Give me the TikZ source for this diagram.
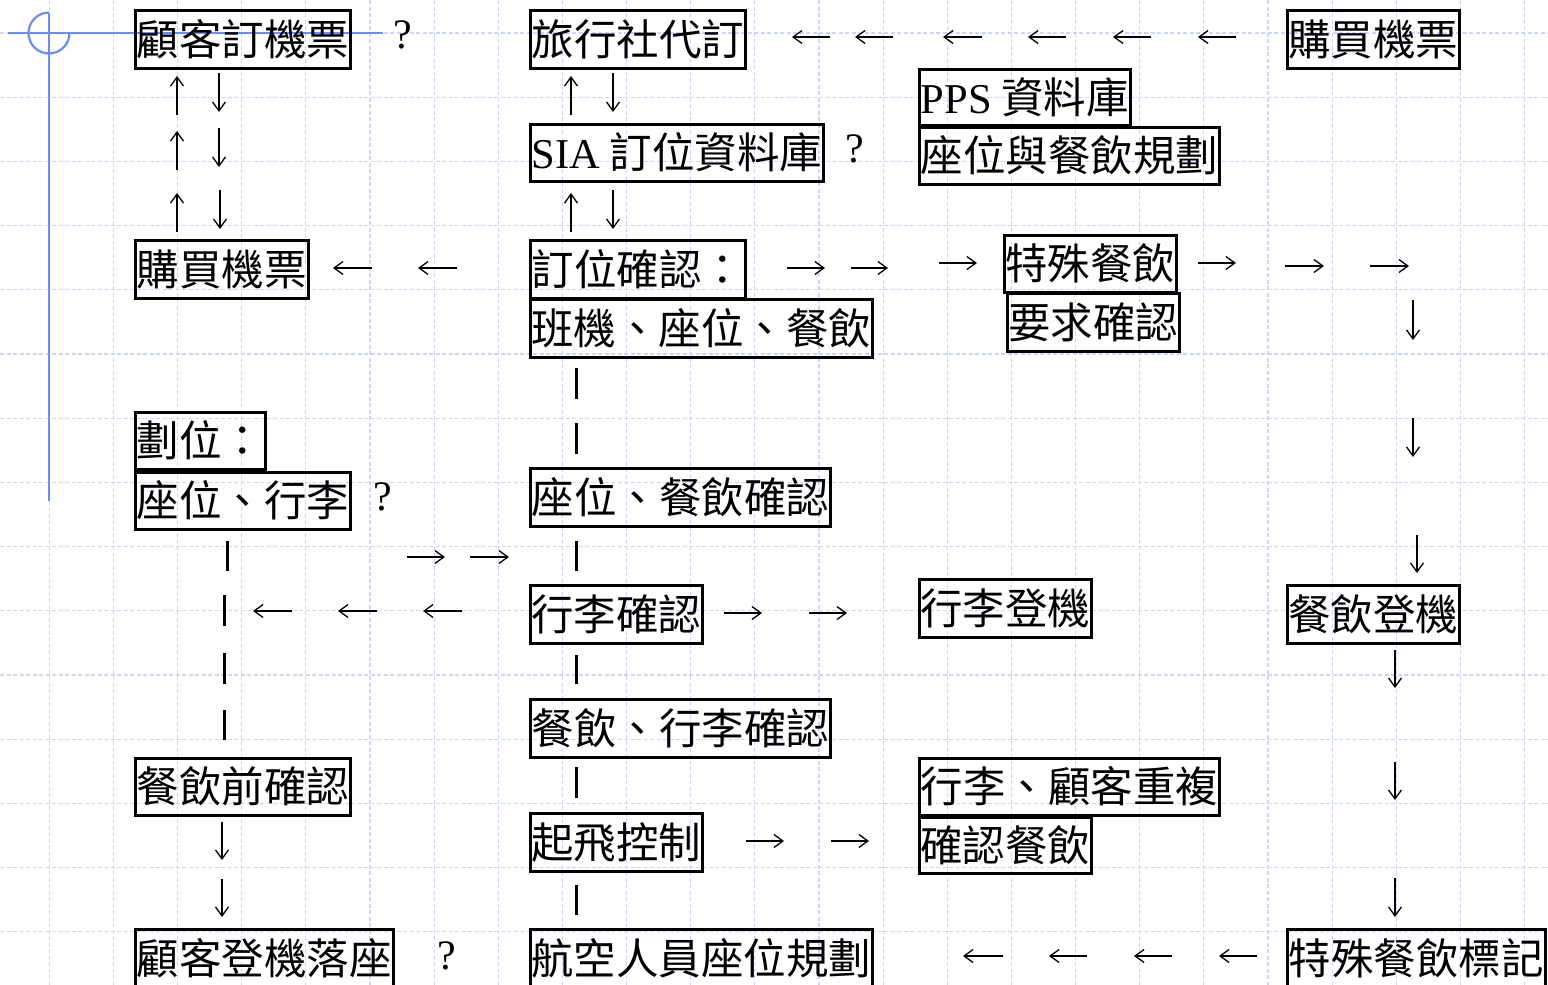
\documentclass[tikz,border=0pt]{standalone}
\usepackage{fontspec}
\setmainfont{Liberation Serif}
\newfontfamily\cjk{Noto Sans CJK TC}
\usetikzlibrary{arrows.meta}
\definecolor{gridblue}{RGB}{205,214,250}
\definecolor{decoblue}{RGB}{110,140,245}
\begin{document}
\begin{tikzpicture}[x=1pt,y=-1pt,
  gridln/.style={draw=gridblue,line width=1.1pt,dash pattern=on 4pt off 2.5pt},
  deco/.style={draw=decoblue,line width=2.2pt},
  box/.style={draw=black,line width=2.7pt,anchor=north west,inner sep=0pt,
    font=\cjk\fontsize{42.5pt}{50pt}\selectfont,text height=37pt,text depth=5pt},
  qm/.style={font=\rmfamily\fontsize{42pt}{50pt}\selectfont,inner sep=0pt},
  arr/.style={line width=1.3pt,-{Straight Barb[length=9pt,width=13pt]}},
  bar/.style={line width=3pt}]
\useasboundingbox (0,0) rectangle (1548,985);
\fill[white] (0,0) rectangle (1548,985);
% background grid
\foreach \k in {0,...,23} \draw[gridln] ({49.3+64.14*\k},0) -- ({49.3+64.14*\k},985);
\foreach \k in {0,...,14} \draw[gridln] (0,{33+64.2*\k}) -- (1548,{33+64.2*\k});
% blue decoration
\draw[deco] (8,33) -- (383,33);
\draw[deco] (49,12.5) -- (49,501);
\draw[deco] (69.5,33) arc[start angle=0,end angle=270,radius=20.5];
% boxes
\node[box,minimum width=215pt,minimum height=58pt] (a) at (134,9) {顧客訂機票};
\node[box,minimum width=173pt,minimum height=58pt] (b) at (134,239) {購買機票};
\node[box,minimum width=215pt,minimum height=58pt] (c) at (529,9) {旅行社代訂};
\node[box,minimum width=172pt,minimum height=58pt] (d) at (1286,9) {購買機票};
\node[box,minimum width=211pt,minimum height=56pt] (e) at (918,68) {{\rmfamily PPS} 資料庫};
\node[box,minimum width=300pt,minimum height=57pt] (f) at (918,126) {座位與餐飲規劃};
\node[box,minimum width=293pt,minimum height=57pt] (g) at (529,123) {{\rmfamily SIA} 訂位資料庫};
\node[box,minimum width=215pt,minimum height=58pt] (h) at (529,239) {訂位確認：};
\node[box,minimum width=342pt,minimum height=58pt] (i) at (529,298) {班機、座位、餐飲};
\node[box,minimum width=172pt,minimum height=57pt] (j) at (1003,234) {特殊餐飲};
\node[box,minimum width=172pt,minimum height=58pt] (k) at (1006,292) {要求確認};
\node[box,minimum width=130pt,minimum height=57pt] (l) at (134,411) {劃位：};
\node[box,minimum width=215pt,minimum height=57pt] (m) at (134,471) {座位、行李};
\node[box,minimum width=300pt,minimum height=58pt] (n) at (529,467) {座位、餐飲確認};
\node[box,minimum width=172pt,minimum height=58pt] (o) at (529,584) {行李確認};
\node[box,minimum width=172pt,minimum height=58pt] (p) at (918,578) {行李登機};
\node[box,minimum width=172pt,minimum height=58pt] (q) at (1286,584) {餐飲登機};
\node[box,minimum width=300pt,minimum height=58pt] (r) at (529,698) {餐飲、行李確認};
\node[box,minimum width=215pt,minimum height=57pt] (s) at (134,757) {餐飲前確認};
\node[box,minimum width=300pt,minimum height=57pt] (t) at (918,757) {行李、顧客重複};
\node[box,minimum width=172pt,minimum height=56pt] (u) at (918,816) {確認餐飲};
\node[box,minimum width=172pt,minimum height=58pt] (v) at (529,812) {起飛控制};
\node[box,minimum width=258pt,minimum height=58pt] (w) at (134,928) {顧客登機落座};
\node[box,minimum width=342pt,minimum height=58pt] (x) at (529,928) {航空人員座位規劃};
\node[box,minimum width=258pt,minimum height=58pt] (y) at (1286,928) {特殊餐飲標記};
% question marks
\node[qm] (q1) at (403,35) {?};
\node[qm] (q2) at (855,149) {?};
\node[qm] (q3) at (383,497) {?};
\node[qm] (q4) at (447,956) {?};
% left column vertical arrows
\draw[arr] (177,115) -- (177,76);
\draw[arr] (177,170) -- (177,131);
\draw[arr] (177,232) -- (177,193);
\draw[arr] (219,73) -- (219,112);
\draw[arr] (219,128) -- (219,167);
\draw[arr] (220,190) -- (220,229);
% middle column top arrows
\draw[arr] (571,115) -- (571,76);
\draw[arr] (571,232) -- (571,193);
\draw[arr] (613,73) -- (613,112);
\draw[arr] (613,190) -- (613,229);
% top row leftward arrows
\foreach \a/\b in {830/792,893/855,982/943,1066/1028,1151/1113,1236/1198}
  \draw[arr] (\a,37) -- (\b,37);
% left row
\foreach \a/\b in {372/333,457/418} \draw[arr] (\a,268) -- (\b,268);
% after booking confirmation
\draw[arr] (787,268) -- (825,268);
\draw[arr] (851,268) -- (888,268);
\draw[arr] (939,263) -- (977,263);
% after special meal
\draw[arr] (1198,263) -- (1236,263);
\draw[arr] (1285,266) -- (1324,266);
\draw[arr] (1370,266) -- (1409,266);
% right column down arrows
\draw[arr] (1413,300) -- (1413,340);
\draw[arr] (1413,418) -- (1413,457);
\draw[arr] (1417,535) -- (1417,573);
\draw[arr] (1395,650) -- (1395,688);
\draw[arr] (1395,762) -- (1395,800);
\draw[arr] (1395,878) -- (1395,917);
% bottom row leftward
\foreach \a/\b in {1003/963,1087/1049,1172/1134,1257/1219}
  \draw[arr] (\a,956) -- (\b,956);
% middle rows
\draw[arr] (407,557) -- (445,557);
\draw[arr] (470,557) -- (509,557);
\foreach \a/\b in {292/253,377/338,462/423} \draw[arr] (\a,611) -- (\b,611);
\draw[arr] (724,613) -- (762,613);
\draw[arr] (809,613) -- (847,613);
\draw[arr] (746,841) -- (784,841);
\draw[arr] (831,841) -- (869,841);
\draw[arr] (222,822) -- (222,860);
\draw[arr] (222,879) -- (222,917);
% vertical bars
\draw[bar] (227,541) -- (227,571);
\foreach \a/\b in {595/626,653/684,710/740} \draw[bar] (224,\a) -- (224,\b);
\foreach \a/\b in {368/399,423/454,541/571,655/684,767/798,885/915} \draw[bar] (576,\a) -- (576,\b);
\end{tikzpicture}
\end{document}
